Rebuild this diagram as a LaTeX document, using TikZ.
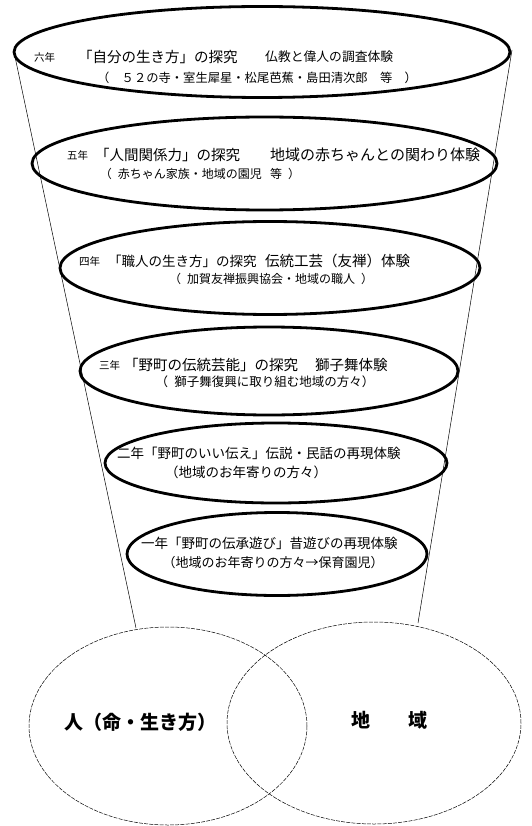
\documentclass[tikz,border=0pt]{standalone}
\usepackage{fontspec}
\setmainfont{Noto Sans CJK JP}
\usetikzlibrary{shapes.geometric}
\newcommand\fsz[1]{\fontsize{#1pt}{#1pt}\selectfont}
\tikzset{
  lev/.style={draw, ellipse, line width=2.8pt, inner sep=0pt},
  venn/.style={draw, ellipse, line width=0.5pt, dash pattern=on 4pt off 1.2pt, inner sep=0pt},
  txt/.style={inner sep=0pt, anchor=west},
  txtc/.style={inner sep=0pt, anchor=center},
  funnel/.style={line width=0.5pt}
}
\begin{document}
\begin{tikzpicture}[x=1pt,y=-1pt]
\useasboundingbox (0,0) rectangle (531,826);
% level ellipses
\node[lev, minimum width=496pt, minimum height=91pt] (E1) at (262,52) {};
\node[lev, minimum width=465pt, minimum height=93pt] (E2) at (264.5,163.5) {};
\node[lev, minimum width=420pt, minimum height=93pt] (E3) at (270,268) {};
\node[lev, minimum width=378pt, minimum height=88pt] (E4) at (269,371) {};
\node[lev, minimum width=342pt, minimum height=80pt] (E5) at (276,463) {};
\node[lev, minimum width=300pt, minimum height=83pt] (E6) at (277,554) {};
% venn ellipses
\node[venn, minimum width=278pt, minimum height=198pt] (L) at (168,726) {};
\node[venn, minimum width=294pt, minimum height=202pt] (R) at (374,723) {};
% funnel lines
\coordinate (ft1) at (14,52);
\coordinate (ft2) at (512,50);
\coordinate (fb1) at (136,628);
\coordinate (fb2) at (418,623);
\draw[funnel] (ft1) -- (fb1);
\draw[funnel] (ft2) -- (fb2);
% texts level 6
\node[txt] (g1) at (34,57) {\fsz{10.5}六年};
\node[txt] (t1) at (78,57) {\fsz{14.5}「自分の生き方」の探究};
\node[txt] (a1) at (265,57) {\fsz{12.8}仏教と偉人の調査体験};
\node[txtc] (s1) at (257,78) {\fsz{12.3}（　５２の寺・室生犀星・松尾芭蕉・島田清次郎　等　）};
% level 5
\node[txt] (g2) at (67,155) {\fsz{10.5}五年};
\node[txt] (t2) at (95,155) {\fsz{14.5}「人間関係力」の探究};
\node[txt] (a2) at (270,155) {\fsz{15}地域の赤ちゃんとの関わり体験};
\node[txtc] (s2) at (200,174) {\fsz{12}（\hspace{.5em}赤ちゃん家族・地域の園児\hspace{.7em}等\hspace{.5em}）};
% level 4
\node[txt] (g3) at (79,261) {\fsz{10.5}四年};
\node[txt] (t3) at (108,261) {\fsz{13.5}「職人の生き方」の探究};
\node[txt] (a3) at (265,261) {\fsz{14.5}伝統工芸（友禅）体験};
\node[txtc] (s3) at (271,279) {\fsz{12}（\hspace{.5em}加賀友禅振興協会・地域の職人\hspace{.5em}）};
% level 3
\node[txt] (g4) at (99,365) {\fsz{10.5}三年};
\node[txt] (t4) at (124,365) {\fsz{14.5}「野町の伝統芸能」の探究};
\node[txt] (a4) at (315,365) {\fsz{14.5}獅子舞体験};
\node[txtc] (s4) at (265,382) {\fsz{12.5}（\hspace{.5em}獅子舞復興に取り組む地域の方々）};
% level 2
\node[txt] (t5) at (117,453) {\fsz{13.5}二年「野町のいい伝え」伝説・民話の再現体験};
\node[txtc] (s5) at (246,472) {\fsz{13.5}（地域のお年寄りの方々）};
% level 1
\node[txt] (t6) at (141,543) {\fsz{13.5}一年「野町の伝承遊び」昔遊びの再現体験};
\node[txtc] (s6) at (273,563) {\fsz{13}（地域のお年寄りの方々→保育園児）};
% venn labels
\node[txtc] (lt) at (140,722) {\fsz{19}\bfseries 人（命・生き方）};
\node[txtc] (rt) at (389,720) {\fsz{19}\bfseries 地　　域};
\end{tikzpicture}
\end{document}
